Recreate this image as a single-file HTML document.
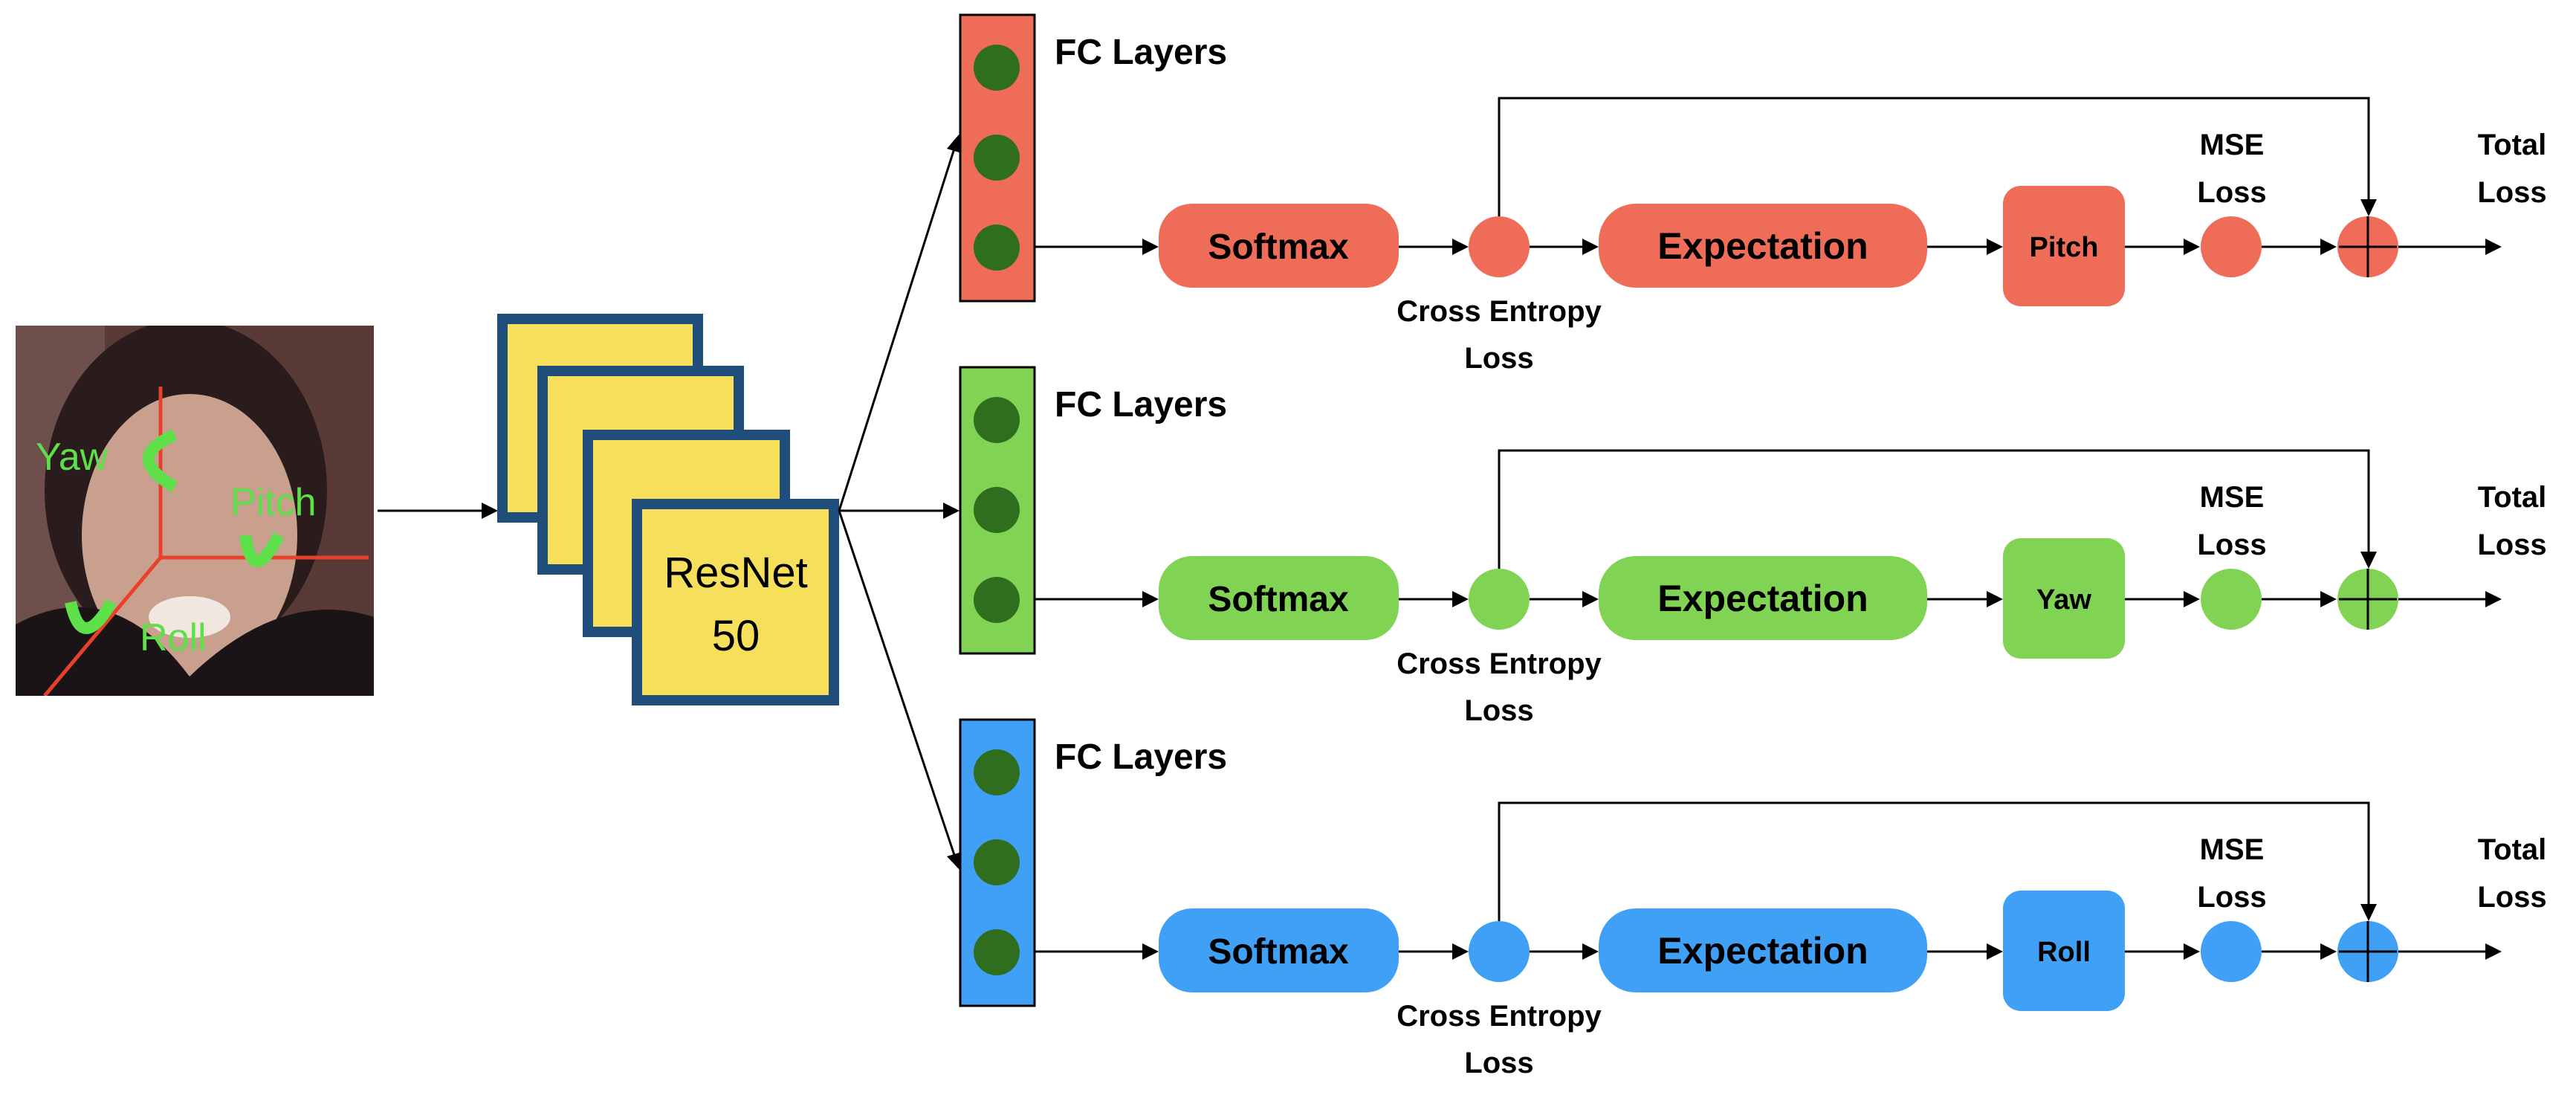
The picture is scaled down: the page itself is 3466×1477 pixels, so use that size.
<!DOCTYPE html>
<html><head><meta charset="utf-8"><style>
html,body{margin:0;padding:0;background:#fff;width:3466px;height:1477px;overflow:hidden}
svg{display:block}
text{font-family:"Liberation Sans",Arial,sans-serif;font-weight:bold}
</style></head><body>
<svg width="3466" height="1477" viewBox="0 0 3466 1477" xmlns="http://www.w3.org/2000/svg">
<defs>
<g id="arr"><path d="M0,0 L-22,-11 L-22,11 Z" fill="#000"/></g>
<clipPath id="fc"><rect x="21" y="438" width="482" height="498"/></clipPath>
</defs>

<!-- Face image approximation -->
<g clip-path="url(#fc)">
<rect x="21" y="438" width="482" height="498" fill="#5a3a36"/>
<rect x="21" y="438" width="120" height="498" fill="#6e4f4c"/>
<ellipse cx="250" cy="660" rx="190" ry="230" fill="#2a1c1c"/>
<ellipse cx="255" cy="720" rx="145" ry="190" fill="#c9a08e"/>
<path d="M21,840 Q150,770 255,910 Q380,790 503,830 L503,936 L21,936 Z" fill="#1b1416"/>
<ellipse cx="255" cy="830" rx="55" ry="28" fill="#f2e6e0"/>
<line x1="216" y1="520" x2="216" y2="750" stroke="#e8402a" stroke-width="5"/>
<line x1="216" y1="750" x2="496" y2="750" stroke="#e8402a" stroke-width="5"/>
<line x1="216" y1="750" x2="60" y2="936" stroke="#e8402a" stroke-width="5"/>
<text x="48" y="632" font-size="52" fill="#5ee04a" style="font-weight:normal">Yaw</text>
<text x="310" y="693" font-size="52" fill="#5ee04a" style="font-weight:normal">Pitch</text>
<text x="188" y="875" font-size="52" fill="#5ee04a" style="font-weight:normal">Roll</text>
<path d="M235,585 Q165,615 235,655" stroke="#5ee04a" stroke-width="16" fill="none"/>
<path d="M330,720 Q340,790 375,720" stroke="#5ee04a" stroke-width="16" fill="none"/>
<path d="M95,810 Q110,880 150,810" stroke="#5ee04a" stroke-width="16" fill="none"/>
</g>

<!-- face -> resnet -->
<line x1="508" y1="687" x2="650" y2="687" stroke="#000" stroke-width="3"/>
<use href="#arr" x="670" y="687"/>

<!-- ResNet stack -->
<g fill="#f6df5a" stroke="#1f4e7a" stroke-width="14">
<rect x="676" y="429" width="263" height="267"/>
<rect x="730" y="499" width="264" height="267"/>
<rect x="791" y="585" width="265" height="265"/>
<rect x="857" y="678" width="265" height="264"/>
</g>
<text x="990" y="790" font-size="58" text-anchor="middle" style="font-weight:normal">ResNet</text>
<text x="990" y="875" font-size="58" text-anchor="middle" style="font-weight:normal">50</text>

<!-- resnet -> FC -->
<line x1="1129" y1="687" x2="1284" y2="200" stroke="#000" stroke-width="3"/>
<path d="M1291,180 L1294,206 L1274,200 Z" fill="#000"/>
<line x1="1129" y1="687" x2="1270" y2="687" stroke="#000" stroke-width="3"/>
<use href="#arr" x="1291" y="687"/>
<line x1="1129" y1="687" x2="1284" y2="1150" stroke="#000" stroke-width="3"/>
<path d="M1291,1170 L1274,1152 L1294,1146 Z" fill="#000"/>

<!-- Rows -->
<g>
<rect x="1292" y="20" width="100" height="385" fill="#ee6c58" stroke="#000" stroke-width="3"/>
<circle cx="1341" cy="91" r="31" fill="#2e6e1e"/>
<circle cx="1341" cy="212" r="31" fill="#2e6e1e"/>
<circle cx="1341" cy="333" r="31" fill="#2e6e1e"/>
<text x="1419" y="86" font-size="48">FC Layers</text>
<g stroke="#000" stroke-width="3" fill="none">
<line x1="1392" y1="332" x2="1545" y2="332"/>
<line x1="1882" y1="332" x2="1962" y2="332"/>
<line x1="2058" y1="332" x2="2136" y2="332"/>
<line x1="2593" y1="332" x2="2680" y2="332"/>
<line x1="2859" y1="332" x2="2945" y2="332"/>
<line x1="3043" y1="332" x2="3130" y2="332"/>
<line x1="3227" y1="332" x2="3350" y2="332"/>
<polyline points="2017,291 2017,132 3187,132 3187,272"/>
</g>
<use href="#arr" x="1559" y="332"/><use href="#arr" x="1976" y="332"/><use href="#arr" x="2151" y="332"/>
<use href="#arr" x="2695" y="332"/><use href="#arr" x="2960" y="332"/><use href="#arr" x="3144" y="332"/>
<use href="#arr" x="3366" y="332"/>
<path d="M3187,291 L3176,268 L3198,268 Z" fill="#000"/>
<g fill="#ee6c58">
<rect x="1559" y="274" width="323" height="113" rx="45"/>
<circle cx="2017" cy="332" r="41"/>
<rect x="2151" y="274" width="442" height="113" rx="50"/>
<rect x="2695" y="250" width="164" height="162" rx="24"/>
<circle cx="3002" cy="332" r="41"/>
<circle cx="3186" cy="332" r="41"/>
</g>
<line x1="3186" y1="291" x2="3186" y2="373" stroke="#000" stroke-width="3"/>
<line x1="3147" y1="332" x2="3225" y2="332" stroke="#000" stroke-width="3"/>
<text x="1720" y="348" font-size="48" text-anchor="middle">Softmax</text>
<text x="2372" y="348" font-size="50" text-anchor="middle">Expectation</text>
<text x="2777" y="345" font-size="38" text-anchor="middle">Pitch</text>
<text x="2017" y="432" font-size="40" text-anchor="middle">Cross Entropy</text>
<text x="2017" y="495" font-size="40" text-anchor="middle">Loss</text>
<text x="3003" y="208" font-size="40" text-anchor="middle">MSE</text>
<text x="3003" y="272" font-size="40" text-anchor="middle">Loss</text>
<text x="3380" y="208" font-size="40" text-anchor="middle">Total</text>
<text x="3380" y="272" font-size="40" text-anchor="middle">Loss</text>
</g>

<g transform="translate(0,474)">
<rect x="1292" y="20" width="100" height="385" fill="#80d353" stroke="#000" stroke-width="3"/>
<circle cx="1341" cy="91" r="31" fill="#2e6e1e"/>
<circle cx="1341" cy="212" r="31" fill="#2e6e1e"/>
<circle cx="1341" cy="333" r="31" fill="#2e6e1e"/>
<text x="1419" y="86" font-size="48">FC Layers</text>
<g stroke="#000" stroke-width="3" fill="none">
<line x1="1392" y1="332" x2="1545" y2="332"/>
<line x1="1882" y1="332" x2="1962" y2="332"/>
<line x1="2058" y1="332" x2="2136" y2="332"/>
<line x1="2593" y1="332" x2="2680" y2="332"/>
<line x1="2859" y1="332" x2="2945" y2="332"/>
<line x1="3043" y1="332" x2="3130" y2="332"/>
<line x1="3227" y1="332" x2="3350" y2="332"/>
<polyline points="2017,291 2017,132 3187,132 3187,272"/>
</g>
<use href="#arr" x="1559" y="332"/><use href="#arr" x="1976" y="332"/><use href="#arr" x="2151" y="332"/>
<use href="#arr" x="2695" y="332"/><use href="#arr" x="2960" y="332"/><use href="#arr" x="3144" y="332"/>
<use href="#arr" x="3366" y="332"/>
<path d="M3187,291 L3176,268 L3198,268 Z" fill="#000"/>
<g fill="#80d353">
<rect x="1559" y="274" width="323" height="113" rx="45"/>
<circle cx="2017" cy="332" r="41"/>
<rect x="2151" y="274" width="442" height="113" rx="50"/>
<rect x="2695" y="250" width="164" height="162" rx="24"/>
<circle cx="3002" cy="332" r="41"/>
<circle cx="3186" cy="332" r="41"/>
</g>
<line x1="3186" y1="291" x2="3186" y2="373" stroke="#000" stroke-width="3"/>
<line x1="3147" y1="332" x2="3225" y2="332" stroke="#000" stroke-width="3"/>
<text x="1720" y="348" font-size="48" text-anchor="middle">Softmax</text>
<text x="2372" y="348" font-size="50" text-anchor="middle">Expectation</text>
<text x="2777" y="345" font-size="38" text-anchor="middle">Yaw</text>
<text x="2017" y="432" font-size="40" text-anchor="middle">Cross Entropy</text>
<text x="2017" y="495" font-size="40" text-anchor="middle">Loss</text>
<text x="3003" y="208" font-size="40" text-anchor="middle">MSE</text>
<text x="3003" y="272" font-size="40" text-anchor="middle">Loss</text>
<text x="3380" y="208" font-size="40" text-anchor="middle">Total</text>
<text x="3380" y="272" font-size="40" text-anchor="middle">Loss</text>
</g>

<g transform="translate(0,948)">
<rect x="1292" y="20" width="100" height="385" fill="#3fa0f5" stroke="#000" stroke-width="3"/>
<circle cx="1341" cy="91" r="31" fill="#2e6e1e"/>
<circle cx="1341" cy="212" r="31" fill="#2e6e1e"/>
<circle cx="1341" cy="333" r="31" fill="#2e6e1e"/>
<text x="1419" y="86" font-size="48">FC Layers</text>
<g stroke="#000" stroke-width="3" fill="none">
<line x1="1392" y1="332" x2="1545" y2="332"/>
<line x1="1882" y1="332" x2="1962" y2="332"/>
<line x1="2058" y1="332" x2="2136" y2="332"/>
<line x1="2593" y1="332" x2="2680" y2="332"/>
<line x1="2859" y1="332" x2="2945" y2="332"/>
<line x1="3043" y1="332" x2="3130" y2="332"/>
<line x1="3227" y1="332" x2="3350" y2="332"/>
<polyline points="2017,291 2017,132 3187,132 3187,272"/>
</g>
<use href="#arr" x="1559" y="332"/><use href="#arr" x="1976" y="332"/><use href="#arr" x="2151" y="332"/>
<use href="#arr" x="2695" y="332"/><use href="#arr" x="2960" y="332"/><use href="#arr" x="3144" y="332"/>
<use href="#arr" x="3366" y="332"/>
<path d="M3187,291 L3176,268 L3198,268 Z" fill="#000"/>
<g fill="#3fa0f5">
<rect x="1559" y="274" width="323" height="113" rx="45"/>
<circle cx="2017" cy="332" r="41"/>
<rect x="2151" y="274" width="442" height="113" rx="50"/>
<rect x="2695" y="250" width="164" height="162" rx="24"/>
<circle cx="3002" cy="332" r="41"/>
<circle cx="3186" cy="332" r="41"/>
</g>
<line x1="3186" y1="291" x2="3186" y2="373" stroke="#000" stroke-width="3"/>
<line x1="3147" y1="332" x2="3225" y2="332" stroke="#000" stroke-width="3"/>
<text x="1720" y="348" font-size="48" text-anchor="middle">Softmax</text>
<text x="2372" y="348" font-size="50" text-anchor="middle">Expectation</text>
<text x="2777" y="345" font-size="38" text-anchor="middle">Roll</text>
<text x="2017" y="432" font-size="40" text-anchor="middle">Cross Entropy</text>
<text x="2017" y="495" font-size="40" text-anchor="middle">Loss</text>
<text x="3003" y="208" font-size="40" text-anchor="middle">MSE</text>
<text x="3003" y="272" font-size="40" text-anchor="middle">Loss</text>
<text x="3380" y="208" font-size="40" text-anchor="middle">Total</text>
<text x="3380" y="272" font-size="40" text-anchor="middle">Loss</text>
</g>
</svg>
</body></html>
